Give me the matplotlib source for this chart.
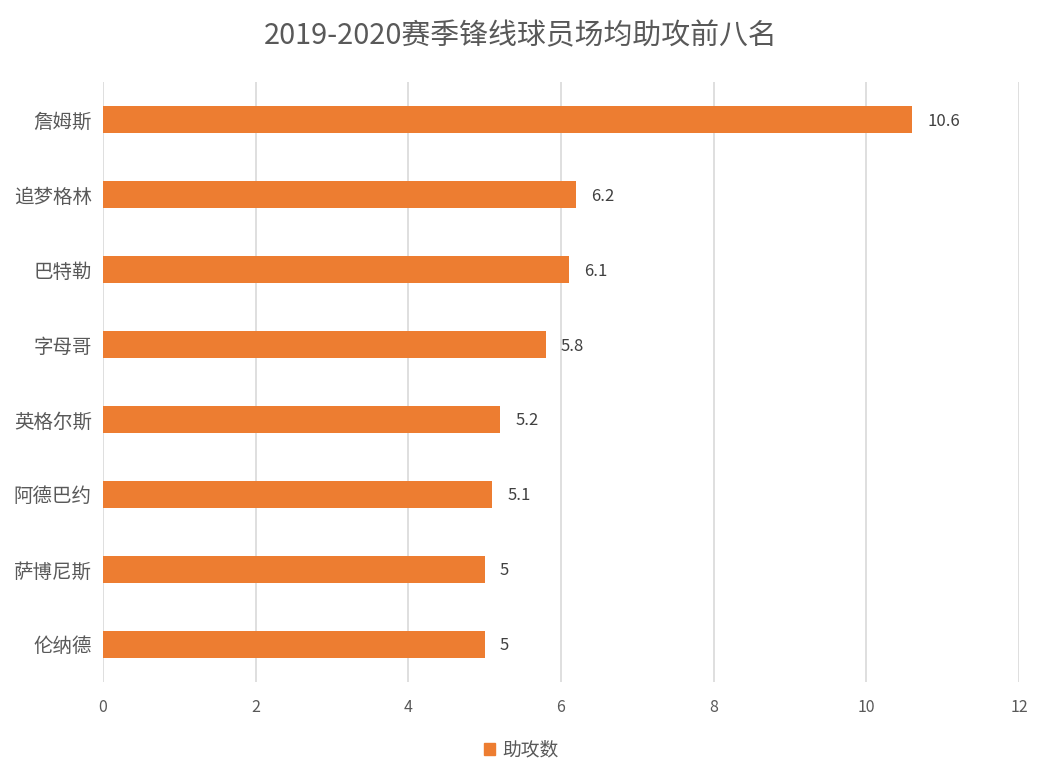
import matplotlib.pyplot as plt
from matplotlib.patches import Patch

plt.rcParams['font.family'] = ['Noto Sans CJK SC', 'DejaVu Sans']

players = ['詹姆斯', '追梦格林', '巴特勒', '字母哥', '英格尔斯', '阿德巴约', '萨博尼斯', '伦纳德']
assists = [10.6, 6.2, 6.1, 5.8, 5.2, 5.1, 5, 5]
xticks = [0, 2, 4, 6, 8, 10, 12]

orange = '#ED7D31'
grey = '#595959'

fig = plt.figure(figsize=(10.42, 7.82), dpi=100)
ax = fig.add_axes([0.0988, 0.128, 0.8791, 0.767])

# top of chart is the first player
ypos = list(range(len(players)))[::-1]
ax.barh(ypos, assists, height=0.35, color=orange, zorder=3)

for y, v in zip(ypos, assists):
    ax.text(v + 0.2, y - 0.02, f'{v:g}', va='center', ha='left', fontsize=12, color='#404040')

ax.set_xlim(0, 12)
ax.set_ylim(-0.5, len(players) - 0.5)
ax.set_xticks(xticks)
ax.set_xticklabels([str(t) for t in xticks], fontsize=11.5, color=grey)
ax.set_yticks(ypos)
ax.set_yticklabels(players, fontsize=14, color=grey)
ax.tick_params(length=0)
ax.tick_params(axis='x', pad=12)
ax.tick_params(axis='y', pad=8)

ax.grid(axis='x', color='#d9d9d9', linewidth=1.2, zorder=0)
for s in ['top', 'right', 'left', 'bottom']:
    ax.spines[s].set_visible(False)

fig.text(0.5, 0.953, '2019-2020赛季锋线球员场均助攻前八名', ha='center', va='center',
         fontsize=20.8, color=grey)

fig.legend(handles=[Patch(color=orange, label='助攻数')], loc='center',
           bbox_to_anchor=(0.5, 0.041), frameon=False, fontsize=13.5,
           handlelength=0.6, handleheight=0.6, handletextpad=0.4, labelcolor=grey)

fig.savefig('out.png', dpi=100)
